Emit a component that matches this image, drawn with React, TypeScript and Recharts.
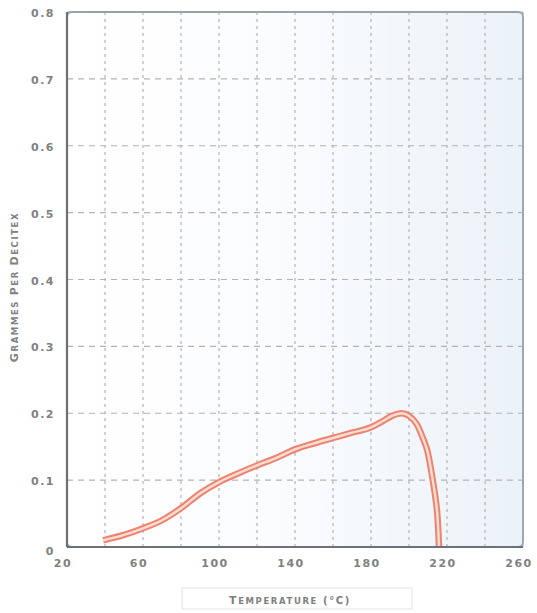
import React from 'react';
import { LineChart, Line, XAxis, YAxis, CartesianGrid, ReferenceArea, Label } from 'recharts';

const temps = [39, 50, 60, 70, 80, 90, 100, 110, 120, 130, 140, 150, 160, 170, 180, 186, 191, 196, 200, 204, 207, 210, 212.5, 214, 215, 215.5, 215.8];
const grams = [0.01, 0.018, 0.028, 0.04, 0.058, 0.08, 0.097, 0.11, 0.122, 0.133, 0.146, 0.155, 0.163, 0.171, 0.179, 0.188, 0.196, 0.2, 0.196, 0.184, 0.165, 0.14, 0.1, 0.072, 0.045, 0.02, 0];
const xGridTicks = [20, 40, 60, 80, 100, 120, 140, 160, 180, 200, 220, 240, 260];
const xLabelTicks = [20, 60, 100, 140, 180, 220, 260];
const yTicks = [0, 0.1, 0.2, 0.3, 0.4, 0.5, 0.6, 0.7, 0.8];

const data = temps.map((t, i) => ({ t, g: grams[i] }));

const FONT = '"DejaVu Sans", sans-serif';
const TXT = '#808080';

const XTick = (props: any) => {
  const { x, y, payload } = props;
  if (!xLabelTicks.includes(payload.value)) return null;
  return (
    <text x={x - 4} y={y + 12} textAnchor="middle" fontFamily={FONT} fontSize={11} fontWeight={600} fill={TXT} letterSpacing={1.5}>
      {String(payload.value)}
    </text>
  );
};

const YTick = (props: any) => {
  const { x, y, payload } = props;
  const v = payload.value;
  const label = v === 0 ? '0' : v.toFixed(1);
  return (
    <text x={x - 4} y={y + (v === 0 ? 8 : 5)} textAnchor="end" fontFamily={FONT} fontSize={11} fontWeight={600} fill={TXT} letterSpacing={1.5}>
      {label}
    </text>
  );
};

const BorderShape = (p: any) => (
  <g>
    <rect x={p.x} y={p.y} width={p.width} height={p.height} rx={5} ry={5} fill="none" stroke="#9aa1a8" strokeWidth={1.8} />
  </g>
);

const XTitle = (props: any) => {
  const vb = props.viewBox || {};
  const cx = 290;
  const y = (vb.y || 547) + (vb.height || 30) + 27;
  return (
    <g>
      <rect x={182} y={y - 16} width={230} height={21} fill="#ffffff" stroke="#e4e4e4" strokeWidth={1} />
      <text x={cx} y={y} textAnchor="middle" fontFamily={FONT} fontWeight={600} fill={TXT} letterSpacing={1.6}>
        <tspan fontSize={11}>T</tspan><tspan fontSize={8.5}>EMPERATURE</tspan><tspan fontSize={10}> (°C)</tspan>
      </text>
    </g>
  );
};

const YTitle = () => (
  <text x={0} y={0} transform="translate(18,287) rotate(-90)" textAnchor="middle" fontFamily={FONT} fontWeight={600} fill={TXT} letterSpacing={1.6}>
    <tspan fontSize={11}>G</tspan><tspan fontSize={8.5}>RAMMES </tspan><tspan fontSize={11}>P</tspan><tspan fontSize={8.5}>ER </tspan><tspan fontSize={11}>D</tspan><tspan fontSize={8.5}>ECITEX</tspan>
  </text>
);

export default function App() {
  return (
    <div style={{ position: 'absolute', left: 0, top: 0, width: 537, height: 613, background: '#fff' }}>
      <LineChart width={537} height={613} data={data} margin={{ top: 12, right: 14, bottom: 36, left: 0 }}>
        <defs>
          <linearGradient id="bgGrad" x1="0" y1="0" x2="1" y2="0">
            <stop offset="0%" stopColor="#ffffff" />
            <stop offset="45%" stopColor="#fbfcfe" />
            <stop offset="100%" stopColor="#ebf2f8" />
          </linearGradient>
        </defs>
        <CartesianGrid horizontal={true} vertical={false} fill="url(#bgGrad)" fillOpacity={1} stroke="#b3b3b3" strokeDasharray="6 5" strokeWidth={1.2} />
        <CartesianGrid horizontal={false} vertical={true} stroke="#b3b3b3" strokeDasharray="3 4" strokeWidth={1.2} />
        <ReferenceArea x1={20} x2={260} y1={0} y2={0.8} shape={<BorderShape />} ifOverflow="extendDomain" />
        <XAxis
          dataKey="t"
          type="number"
          domain={[20, 260]}
          ticks={xGridTicks}
          interval={0}
          tick={<XTick />}
          tickLine={false}
          axisLine={{ stroke: '#6b7079', strokeWidth: 2.2 }}
          height={30}
        >
          <Label content={<XTitle />} />
        </XAxis>
        <YAxis
          type="number"
          domain={[0, 0.8]}
          ticks={yTicks}
          interval={0}
          tick={<YTick />}
          tickLine={false}
          axisLine={{ stroke: '#6b7079', strokeWidth: 2.2 }}
          width={67}
        >
          <Label content={<YTitle />} />
        </YAxis>
        <Line type="monotone" dataKey="g" stroke="#ee8470" strokeWidth={6.5} dot={false} isAnimationActive={false} />
        <Line type="monotone" dataKey="g" stroke="#fcded5" strokeWidth={2.4} dot={false} isAnimationActive={false} />
      </LineChart>
    </div>
  );
}
